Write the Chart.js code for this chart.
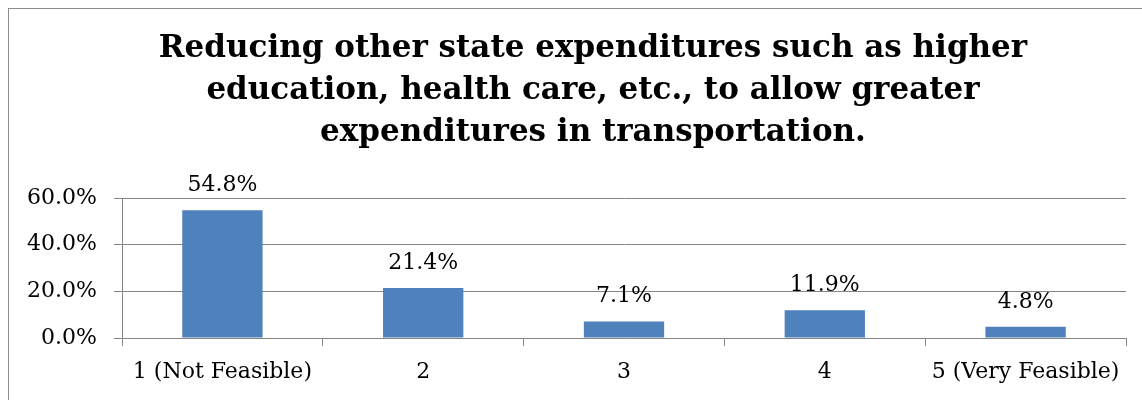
<!DOCTYPE html>
<html>
<head>
<meta charset="utf-8">
<title>Reducing other state expenditures</title>
<script src="https://cdn.jsdelivr.net/npm/chart.js@4"></script>
<style>
  html, body { margin: 0; padding: 0; background: #fff; overflow: hidden; }
  #frame {
    position: absolute; left: 8px; top: 8px;
    width: 1300px; height: 600px;
    border: 1px solid #8c8c8c;
  }
  #wrap { position: absolute; left: 0; top: 0; width: 1142px; height: 400px; }
</style>
</head>
<body>
<div id="frame"></div>
<div id="wrap"><canvas id="chart"></canvas></div>
<script>
// ── Data ──────────────────────────────────────────────────────────────────────
const categories = ["1 (Not Feasible)", "2", "3", "4", "5 (Very Feasible)"];
const percentages = [54.8, 21.4, 7.1, 11.9, 4.8];
const yTicks = [0, 20, 40, 60];
const titleLines = [
  "Reducing other state expenditures such as higher",
  "education, health care, etc., to allow greater",
  "expenditures in transportation.",
];

const SERIF = "'DejaVu Serif', 'Liberation Serif', serif";
const BAR_BLUE = "#4f81bd";
const GRID_GREY = "#868686";
const TICK_FONT = { family: SERIF, size: 22 };

// ── Title: three centred bold lines (Chart.js title centres on the wrong box) ─
const titleBlock = {
  id: "titleBlock",
  afterDraw(chart) {
    const { ctx } = chart;
    ctx.save();
    ctx.font = `bold 31px ${SERIF}`;
    ctx.fillStyle = "#000";
    ctx.textAlign = "center";
    ctx.textBaseline = "alphabetic";
    titleLines.forEach((line, i) => ctx.fillText(line, 593, 57 + i * 42));
    ctx.restore();
  },
};

// ── Value labels above bars ───────────────────────────────────────────────────
const barLabels = {
  id: "barLabels",
  afterDatasetsDraw(chart) {
    const { ctx } = chart;
    const meta = chart.getDatasetMeta(0);
    ctx.save();
    ctx.font = `${TICK_FONT.size}px ${SERIF}`;
    ctx.fillStyle = "#000";
    ctx.textAlign = "center";
    ctx.textBaseline = "alphabetic";
    meta.data.forEach((bar, i) => {
      ctx.fillText(`${percentages[i].toFixed(1)}%`, bar.x, bar.y - 19);
    });
    ctx.restore();
  },
};

new Chart(document.getElementById("chart"), {
  type: "bar",
  data: {
    labels: categories,
    datasets: [{
      data: percentages,
      backgroundColor: BAR_BLUE,
      borderWidth: 0,
      categoryPercentage: 1,
      barPercentage: 0.4,
    }],
  },
  options: {
    responsive: true,
    maintainAspectRatio: false,
    animation: false,
    layout: { padding: { top: 198, right: 16, bottom: 0, left: 0 } },
    plugins: {
      legend: { display: false },
      tooltip: { enabled: false },
      title: { display: false },
    },
    scales: {
      x: {
        grid: { display: true, drawOnChartArea: false, drawTicks: true, tickLength: 8, color: GRID_GREY },
        border: { color: GRID_GREY },
        ticks: { color: "#000", padding: 13, font: TICK_FONT, maxRotation: 0 },
        afterFit: s => { s.height = 62; },
      },
      y: {
        min: 0,
        max: yTicks[yTicks.length - 1],
        afterBuildTicks: s => { s.ticks = yTicks.map(v => ({ value: v })); },
        grid: { color: GRID_GREY, tickLength: 8 },
        border: { color: GRID_GREY },
        ticks: {
          color: "#000",
          padding: 17,
          font: TICK_FONT,
          callback: v => `${v.toFixed(1)}%`,
        },
        afterFit: s => { s.width = 122; },
      },
    },
  },
  plugins: [titleBlock, barLabels],
});
</script>
</body>
</html>
